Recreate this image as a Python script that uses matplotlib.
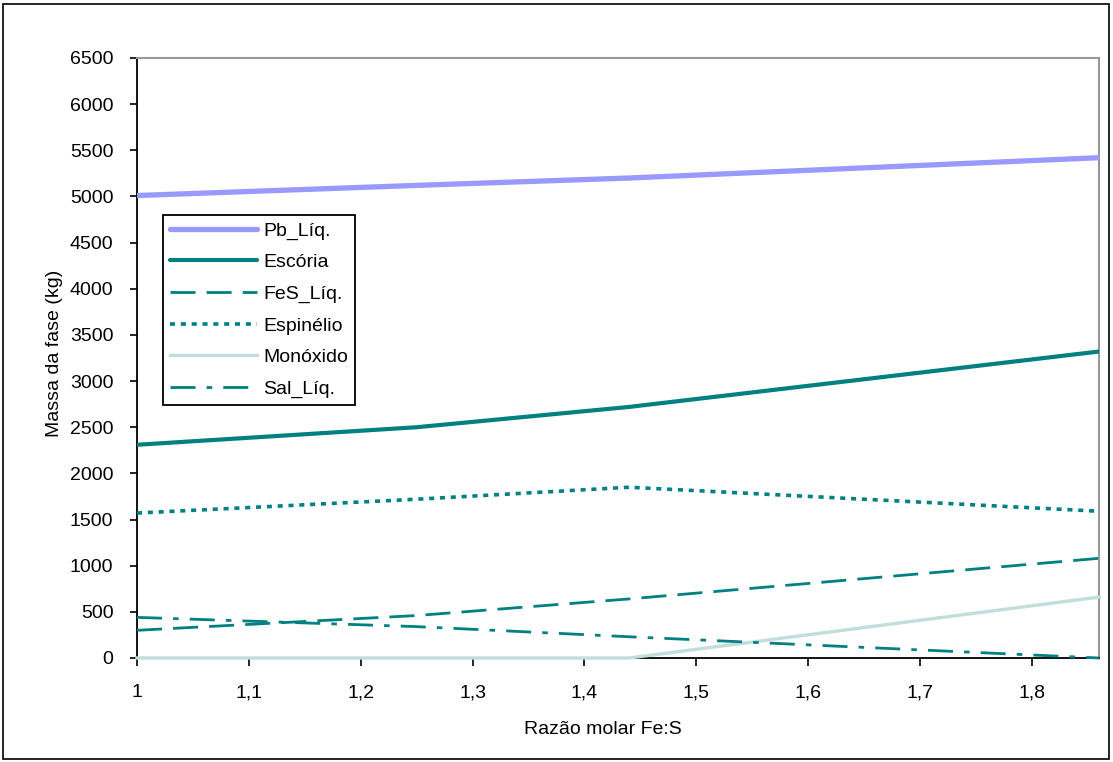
import matplotlib
matplotlib.use("Agg")
import matplotlib.pyplot as plt
from matplotlib.patches import Rectangle
from matplotlib.ticker import FuncFormatter, MultipleLocator

plt.rcParams["font.family"] = ["Liberation Sans", "DejaVu Sans"]

razao = [1.0, 1.25, 1.44, 1.86]
pb_liq = [5010, 5120, 5200, 5420]
escoria = [2310, 2500, 2720, 3320]
fes_liq = [300, 460, 640, 1080]
espinelio = [1570, 1720, 1850, 1590]
monoxido = [0, 0, 0, 660]
sal_liq = [440, 340, 230, 0]

teal = "#008080"
W, H = 1113, 762

fig = plt.figure(figsize=(W / 100, H / 100), dpi=100)
ax = fig.add_axes([137 / W, 1 - 658 / H, (1099 - 137) / W, 600 / H])

ax.plot(razao, pb_liq, color="#9999FF", lw=3.8, label="Pb_Líq.", solid_capstyle="round", zorder=3)
ax.plot(razao, escoria, color=teal, lw=3.0, label="Escória", solid_capstyle="round", zorder=3)
ax.plot(razao, fes_liq, color=teal, lw=2.0, dashes=(9, 4), label="FeS_Líq.", zorder=3)
ax.plot(razao, espinelio, color=teal, lw=2.6, dashes=(1.4, 1.6), label="Espinélio", zorder=3)
ax.plot(razao, monoxido, color="#C0DEDC", lw=2.4, label="Monóxido", zorder=3, clip_on=False)
ax.plot(razao, sal_liq, color=teal, lw=2.0, dashes=(9, 4, 2, 4), label="Sal_Líq.", zorder=3, clip_on=False)

ax.set_xlim(1.0, 1.86)
ax.set_ylim(0, 6500)
ax.xaxis.set_major_locator(MultipleLocator(0.1))
ax.yaxis.set_major_locator(MultipleLocator(500))


def fmt_x(v, pos):
    if abs(v - round(v)) < 1e-9:
        return str(int(round(v)))
    return f"{v:.1f}".replace(".", ",")


ax.xaxis.set_major_formatter(FuncFormatter(fmt_x))
ax.yaxis.set_major_formatter(FuncFormatter(lambda v, p: f"{int(v)}"))

for s in ("left", "bottom"):
    ax.spines[s].set_color("black")
    ax.spines[s].set_linewidth(1.3)
for s in ("right", "top"):
    ax.spines[s].set_color("#999999")
    ax.spines[s].set_linewidth(1.5)

ax.tick_params(axis="both", direction="out", width=1.2, labelsize=14, colors="black")
ax.tick_params(axis="y", length=5, pad=12)
ax.tick_params(axis="x", length=6, pad=13)

fig.text(55 / W, 1 - 353 / H, "Massa da fase (kg)", rotation=90,
         ha="center", va="center", fontsize=14)
fig.text(603 / W, 1 - 734 / H, "Razão molar Fe:S", ha="center", va="baseline",
         fontsize=14)

leg = ax.legend(loc="upper left", bbox_to_anchor=(26 / 962, (658 - 215) / 600), fontsize=14,
                frameon=True, fancybox=False, edgecolor="black", framealpha=1,
                handlelength=4.5, handletextpad=0.3, labelspacing=0.72,
                borderpad=0.35, borderaxespad=0)
leg.get_frame().set_linewidth(1.3)

fig.patches.append(Rectangle((3 / W, 3 / H), 1106 / W, 755 / H,
                             transform=fig.transFigure, fill=False,
                             edgecolor="black", lw=1.2))

fig.savefig("out.png", dpi=100)
